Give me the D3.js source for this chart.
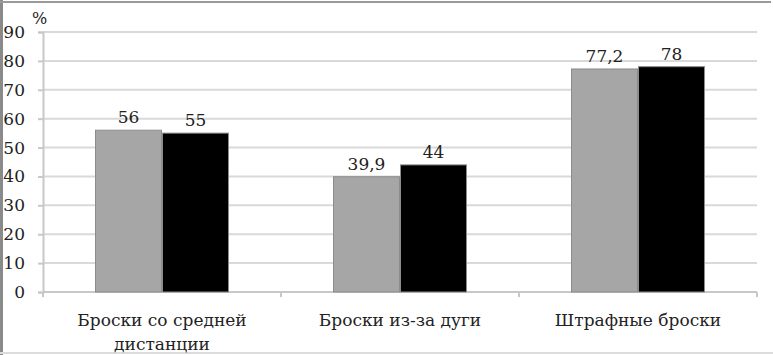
<!DOCTYPE html>
<html>
<head>
<meta charset="utf-8">
<script src="https://cdn.jsdelivr.net/npm/d3@7"></script>
<style>
  body { margin: 0; background: #fff; }
</style>
</head>
<body>
<script>
var w = 773;
var h = 355;
var FONT = "'DejaVu Serif', 'Liberation Serif', serif";
var FS = 17;

// data
var categories = [["Броски со средней", "дистанции"], ["Броски из-за дуги"], ["Штрафные броски"]];
var series1 = [56, 39.9, 77.2];
var series2 = [55, 44, 78];
var labels1 = ["56", "39,9", "77,2"];
var labels2 = ["55", "44", "78"];
var yTicks = [0, 10, 20, 30, 40, 50, 60, 70, 80, 90];

var svg = d3.select("body").append("svg")
  .attr("width", w)
  .attr("height", h)
  .style("font-family", FONT);

// frame of the scanned picture
svg.append("rect").attr("x", 0).attr("y", 0).attr("width", 3).attr("height", h).attr("fill", "#8a8a8a");
svg.append("rect").attr("x", 0).attr("y", 1).attr("width", 771).attr("height", 2).attr("fill", "#9a9a9a");
svg.append("rect").attr("x", 0).attr("y", 352).attr("width", w).attr("height", 2).attr("fill", "#dcdcdc");

var pLeft = 43, pRight = 757, pTop = 32, pBottom = 292;

var y = d3.scaleLinear().domain([0, 90]).range([pBottom, pTop]);

var x0 = d3.scaleBand()
  .domain(d3.range(categories.length))
  .range([pLeft, pRight])
  .paddingInner(0.437)
  .paddingOuter(0.2185);

var x1 = d3.scaleBand()
  .domain([0, 1])
  .range([0, x0.bandwidth()]);

// gridlines
svg.append("g").selectAll("line")
  .data(yTicks.slice(1))
  .enter().append("line")
  .attr("x1", pLeft).attr("x2", pRight)
  .attr("y1", function(d) { return y(d); })
  .attr("y2", function(d) { return y(d); })
  .attr("stroke", "#d9d9d9")
  .attr("stroke-width", 2);

// y axis
var yAxis = d3.axisLeft(y).tickValues(yTicks).tickSize(5).tickPadding(13);
var gy = svg.append("g").attr("transform", "translate(" + pLeft + ",0)").call(yAxis);
gy.attr("font-family", FONT).attr("font-size", FS);
gy.select(".domain").attr("stroke", "#c8c8c8").attr("stroke-width", 2);
gy.selectAll(".tick line").attr("stroke", "#c8c8c8").attr("stroke-width", 2);
gy.selectAll(".tick text").attr("fill", "#222");

svg.append("text").attr("x", 32).attr("y", 24).attr("font-size", FS - 1)
  .attr("fill", "#222").text("%");

// x axis line and tick marks between categories
var xTickPos = [pLeft, pLeft + x0.step(), pLeft + 2 * x0.step(), pRight];
svg.append("line").attr("x1", pLeft).attr("x2", pRight)
  .attr("y1", pBottom).attr("y2", pBottom)
  .attr("stroke", "#c8c8c8").attr("stroke-width", 2);
svg.append("g").selectAll("line")
  .data(xTickPos)
  .enter().append("line")
  .attr("x1", function(d) { return d; }).attr("x2", function(d) { return d; })
  .attr("y1", pBottom).attr("y2", pBottom + 5)
  .attr("stroke", "#c8c8c8").attr("stroke-width", 2);

// bars
var groups = svg.append("g").selectAll("g")
  .data(categories)
  .enter().append("g")
  .attr("transform", function(d, i) { return "translate(" + x0(i) + ",0)"; });

var colors = ["#a6a6a6", "#000000"];
var vals = [series1, series2];
var labs = [labels1, labels2];

groups.each(function(d, i) {
  var g = d3.select(this);
  for (var s = 0; s < 2; s++) {
    g.append("rect")
      .attr("x", x1(s) + 0.5)
      .attr("y", y(vals[s][i]))
      .attr("width", x1.bandwidth() - 1)
      .attr("height", pBottom - y(vals[s][i]))
      .attr("fill", colors[s])
      .attr("stroke", "#8c8c8c")
      .attr("stroke-width", 1);
    g.append("text")
      .attr("x", x1(s) + x1.bandwidth() / 2)
      .attr("y", y(vals[s][i]) - 7)
      .attr("text-anchor", "middle")
      .attr("font-size", FS)
      .attr("fill", "#222")
      .text(labs[s][i]);
  }
});

// category labels
svg.append("g").selectAll("text")
  .data(categories)
  .enter().append("text")
  .attr("text-anchor", "middle")
  .attr("font-size", FS)
  .attr("fill", "#222")
  .attr("x", function(d, i) { return x0(i) + x0.bandwidth() / 2; })
  .attr("y", 326)
  .each(function(d) {
    var t = d3.select(this);
    d.forEach(function(line, k) {
      t.append("tspan")
        .attr("x", t.attr("x"))
        .attr("dy", k === 0 ? 0 : 24)
        .text(line);
    });
  });
</script>
</body>
</html>
